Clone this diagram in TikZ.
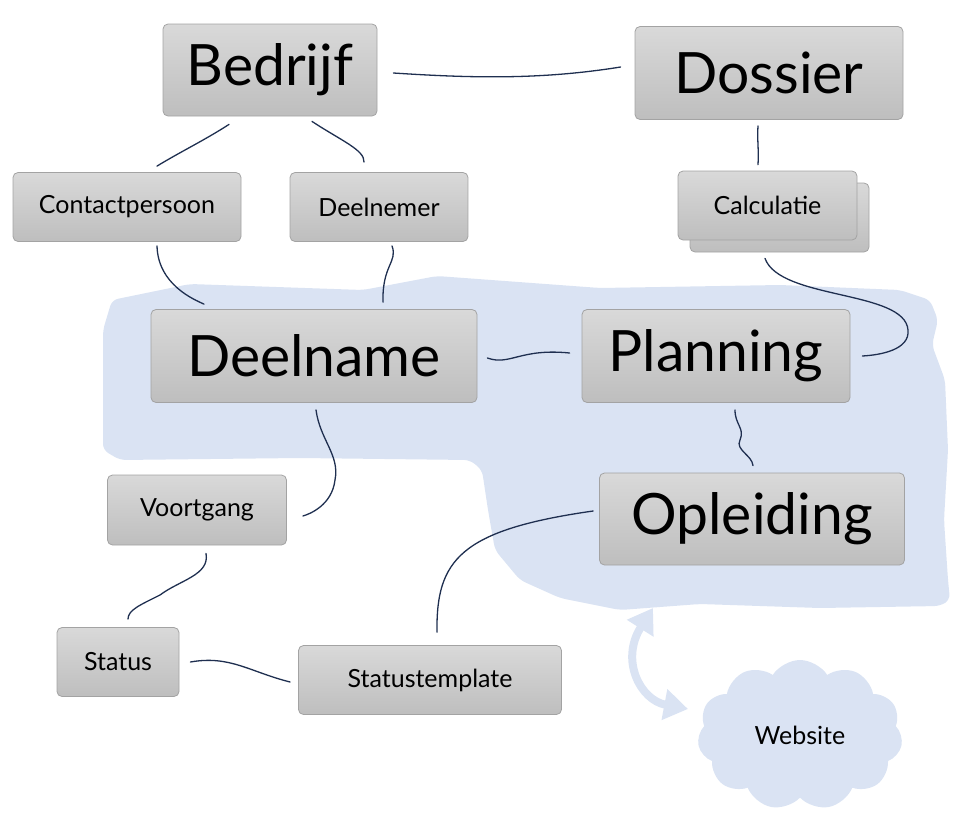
\documentclass[tikz,border=0pt]{standalone}
\usepackage{fontspec}
\setmainfont{Lato}
\usetikzlibrary{shapes.symbols,arrows.meta}
\definecolor{boxtop}{HTML}{D9D9D9}
\definecolor{boxbot}{HTML}{BEBEBE}
\definecolor{boxline}{HTML}{A3A3A3}
\definecolor{blobc}{HTML}{DAE3F3}
\definecolor{connc}{HTML}{1F2F50}
\tikzset{
  box/.style={draw=boxline, line width=0.8pt, rounded corners=5pt, top color=boxtop, bottom color=boxbot, inner sep=0pt, anchor=center, text=black},
  bigbox/.style={box, font=\fontsize{57}{60}\selectfont},
  smallbox/.style={box, font=\fontsize{25}{28}\selectfont},
  conn/.style={draw=connc, line width=1.3pt, line cap=round},
}
\begin{document}
\begin{tikzpicture}[x=1pt,y=-1pt]
\useasboundingbox (0,0) rectangle (969,822);
% blue region
\fill[blobc, rounded corners=6pt] (112,300) -- (190,284) -- (363,290) -- (437,276) -- (600,288) -- (780,285) -- (900,290) -- (930,300) -- (938,320) -- (932,345) -- (945,380) -- (948,450) -- (944,520) -- (948,580) -- (950,600) -- (940,606) -- (820,608) -- (700,604) -- (620,610) -- (560,598) -- (520,580) -- (495,550) -- (488,510) -- (482,470) -- (470,460) -- (300,458) -- (120,460) -- (103,450) -- (103,330) -- cycle;
% nodes
\node[bigbox, minimum width=214, minimum height=92] (bed) at (270,70) {Bedrijf};
\node[bigbox, minimum width=268, minimum height=93] (dos) at (769,73) {Dossier};
\node[smallbox, minimum width=228, minimum height=69] (con) at (127,207) {Contactpersoon};
\node[smallbox, minimum width=178, minimum height=69] (dln) at (379,207) {Deelnemer};
\node[smallbox, minimum width=179, minimum height=69] (calb) at (779.5,217.5) {};
\node[smallbox, minimum width=179, minimum height=69] (cal) at (767.5,205.5) {Calculatie};
\node[bigbox, minimum width=326, minimum height=93] (dna) at (314,356) {Deelname};
\node[bigbox, minimum width=268, minimum height=93] (pla) at (716,356) {Planning};
\node[bigbox, minimum width=305, minimum height=92] (opl) at (752,519) {Opleiding};
\node[smallbox, minimum width=179, minimum height=70] (voo) at (197,510) {Voortgang};
\node[smallbox, minimum width=122, minimum height=69] (sta) at (118,662) {Status};
\node[smallbox, minimum width=263, minimum height=69] (stt) at (430,680) {Statustemplate};
\node[cloud, cloud puffs=11, cloud puff arc=115, aspect=1.4, fill=blobc, minimum width=205, minimum height=150, inner sep=0pt, font=\fontsize{25}{28}\selectfont] (web) at (800,735) {Website};
% double arrow
\draw[blobc, line width=8pt, {Triangle[length=24pt,width=30pt]}-{Triangle[length=24pt,width=30pt]}] (653,608) .. controls (620,660) and (640,700) .. (688,709);
% connectors
\draw[conn] ([shift={(16,3)}]bed.east) .. controls (470,78) and (540,80) .. ([shift={(-14,-6)}]dos.west);
\draw[conn] ([shift={(-41,8)}]bed.south) .. controls (205,140) and (180,152) .. ([shift={(30,-6)}]con.north);
\draw[conn] ([shift={(42,5)}]bed.south) .. controls (340,140) and (365,150) .. ([shift={(-15,-10)}]dln.north);
\draw[conn] ([shift={(-11,6)}]dos.south) .. controls (757,140) and (759,150) .. ([shift={(-9.5,-6)}]cal.north);
\draw[conn] ([shift={(30,4)}]con.south) .. controls (158,285) and (195,300) .. ([shift={(-110,-5)}]dna.north);
\draw[conn] ([shift={(13,4)}]dln.south) .. controls (398,262) and (382,265) .. ([shift={(69,-7)}]dna.north);
\draw[conn] ([shift={(10,2)}]dna.east) .. controls (510,366) and (520,348) .. ([shift={(-12,-3)}]pla.west);
\draw[conn] ([shift={(-2.5,18)}]cal.south) .. controls (780,300) and (905,290) .. (908,330) .. controls (910,350) and (880,355) .. ([shift={(12,0)}]pla.east);
\draw[conn] ([shift={(19,7)}]pla.south) .. controls (735,425) and (745,428) .. (740,440) .. controls (735,450) and (752,455) .. ([shift={(1,-7)}]opl.north);
\draw[conn] ([shift={(2,7)}]dna.south) .. controls (320,440) and (340,455) .. (335,480) .. controls (332,505) and (310,514) .. ([shift={(16,6)}]voo.east);
\draw[conn] ([shift={(9,8)}]voo.south) .. controls (210,575) and (180,580) .. (160,595) .. controls (140,605) and (128,610) .. ([shift={(10,-8)}]sta.north);
\draw[conn] ([shift={(11,0)}]sta.east) .. controls (230,655) and (250,672) .. ([shift={(-8,2)}]stt.west);
\draw[conn] ([shift={(7,-13)}]stt.north) .. controls (436,560) and (460,530) .. ([shift={(-6,-8)}]opl.west);
\end{tikzpicture}
\end{document}
